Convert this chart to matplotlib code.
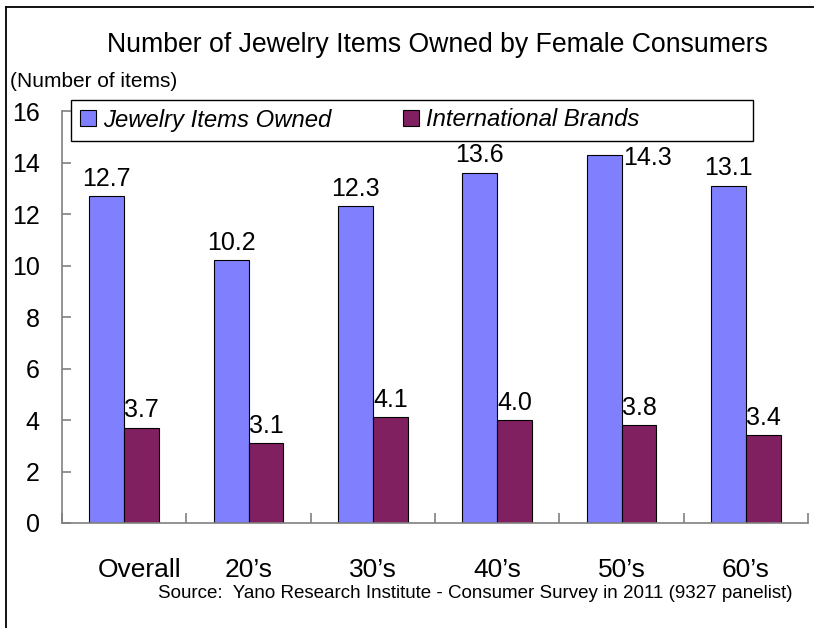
import numpy as np
import matplotlib.pyplot as plt
from matplotlib.lines import Line2D
from matplotlib.patches import Rectangle
from matplotlib.transforms import ScaledTranslation

plt.rcParams['font.family'] = ['Liberation Sans', 'DejaVu Sans']

categories = ['Overall', '20\u2019s', '30\u2019s', '40\u2019s', '50\u2019s', '60\u2019s']
jewelry_owned = [12.7, 10.2, 12.3, 13.6, 14.3, 13.1]
intl_brands = [3.7, 3.1, 4.1, 4.0, 3.8, 3.4]
series_names = ['Jewelry Items Owned', 'International Brands']
colors = ['#8080FF', '#802060']

fig = plt.figure(figsize=(8.14, 6.28), dpi=100)
ax = fig.add_axes([0.0762, 0.1672, 0.9165, 0.656])

x = np.arange(len(categories))
width = 0.28
bars1 = ax.bar(x - width / 2, jewelry_owned, width, color=colors[0],
               edgecolor='black', linewidth=0.8, label=series_names[0])
bars2 = ax.bar(x + width / 2, intl_brands, width, color=colors[1],
               edgecolor='black', linewidth=0.8, label=series_names[1])

# value labels; the tallest one would run into the legend, so it sits beside its bar
for bars, vals in [(bars1, jewelry_owned), (bars2, intl_brands)]:
    for b, v in zip(bars, vals):
        if v > 14:
            ax.annotate('%.1f' % v, (b.get_x() + b.get_width(), v),
                        xytext=(1, -7.5), textcoords='offset points',
                        ha='left', va='baseline', fontsize=18)
        else:
            ax.annotate('%.1f' % v, (b.get_x() + b.get_width() / 2, v),
                        xytext=(0, 7.5), textcoords='offset points',
                        ha='center', va='baseline', fontsize=18)

ax.set_xlim(-0.5, len(categories) - 0.5)
ax.set_ylim(0, 16)
ax.set_yticks(np.arange(0, 17, 2))
ax.set_xticks(x)
ax.set_xticklabels(categories)
ax.set_xticks(np.arange(-0.5, len(categories), 1), minor=True)

for s in ['top', 'right']:
    ax.spines[s].set_visible(False)
for s in ['left', 'bottom']:
    ax.spines[s].set_color('#808080')
    ax.spines[s].set_linewidth(1.2)

ax.tick_params(axis='y', direction='in', length=6.5, width=1.2, color='#808080',
               labelsize=18, pad=16)
ax.tick_params(axis='x', which='major', length=0, labelsize=19, pad=25)
ax.tick_params(axis='x', which='minor', direction='in', length=7, width=1.2,
               color='#808080')

# "Overall" sits a little right of its group in the original
lab0 = ax.get_xticklabels()[0]
lab0.set_transform(lab0.get_transform() + ScaledTranslation(11 / 72, 0, fig.dpi_scale_trans))

# legend: frame drawn separately so it can span wider than its entries
fig.add_artist(Rectangle((71 / 814, 1 - 141 / 628), 682 / 814, 41 / 628,
                         transform=fig.transFigure, facecolor='white',
                         edgecolor='black', linewidth=1.0, zorder=3))
leg = fig.legend(loc='center left', bbox_to_anchor=(80 / 814, 1 - 120 / 628),
                 ncol=2, frameon=False, handlelength=0.67, handleheight=0.67,
                 handletextpad=0.3, columnspacing=3.0, borderaxespad=0,
                 borderpad=0, prop={'size': 17.2, 'style': 'italic'})
leg.set_zorder(4)

fig.text(0.537, 0.917, 'Number of Jewelry Items Owned by Female Consumers',
         ha='center', va='baseline', fontsize=19.2)
fig.text(0.012, 0.862, '(Number of items)', ha='left', va='baseline', fontsize=15)
fig.text(0.194, 0.048, 'Source:  Yano Research Institute - Consumer Survey in 2011 (9327 panelist)',
         ha='left', va='baseline', fontsize=13.5)

# outer frame (only the left and top edges show in the picture)
fig.add_artist(Line2D([0.0074, 0.0074], [0, 0.989], color='black', lw=1.3,
                      transform=fig.transFigure))
fig.add_artist(Line2D([0.0074, 1], [0.989, 0.989], color='black', lw=1.3,
                      transform=fig.transFigure))

fig.savefig('out.png', dpi=100)
